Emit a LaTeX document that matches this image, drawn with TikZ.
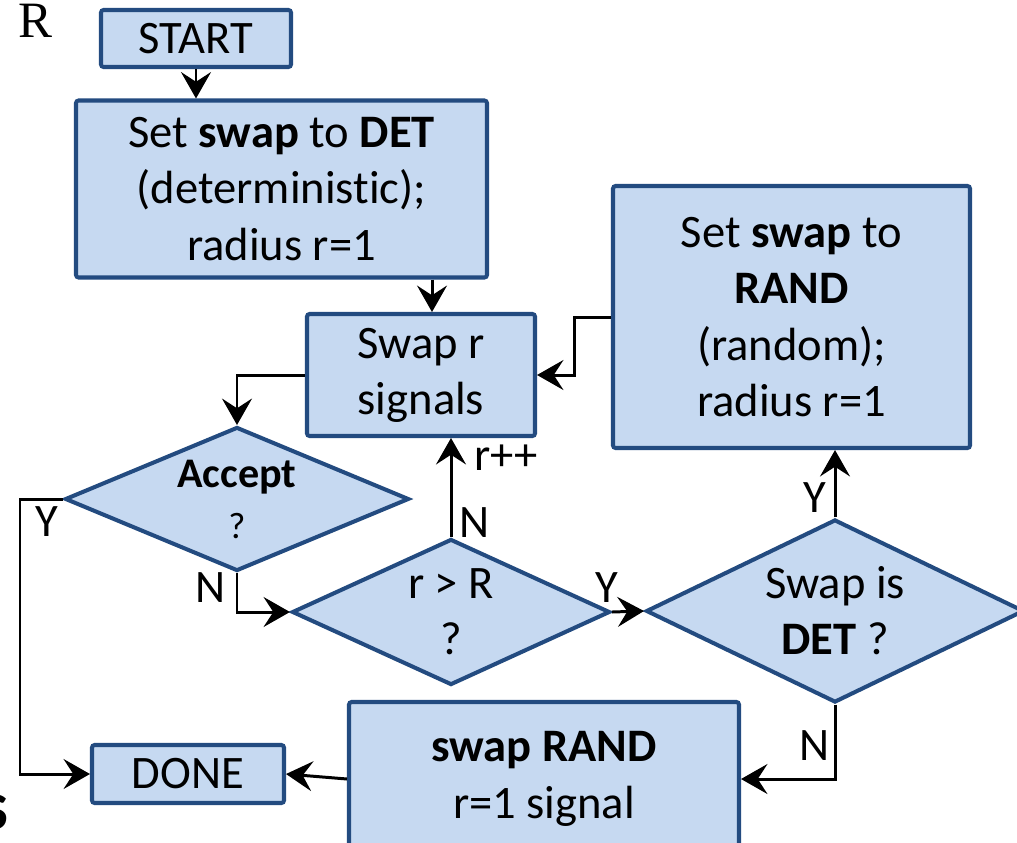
\documentclass[tikz,border=0pt]{standalone}
\usepackage{fontspec}
\setmainfont[Ligatures=NoCommon]{Carlito}
\newfontfamily\serifR{Liberation Serif}
\usetikzlibrary{shapes.geometric,arrows.meta}
\definecolor{boxfill}{RGB}{198,217,241}
\definecolor{boxline}{RGB}{35,75,128}
\newcommand\pw{0.02cm}
\tikzset{
  box/.style={draw=boxline, fill=boxfill, line width=2.3pt, rounded corners=1.5pt,
    align=center, inner sep=0pt, font=\fontsize{26.5}{32}\selectfont},
  dia/.style={shape=diamond, draw=boxline, fill=boxfill, line width=2.3pt,
    align=center, inner sep=0pt, font=\fontsize{26.5}{32}\selectfont},
  conn/.style={line width=1.7pt, black, -{Stealth[length=15pt,width=17pt,inset=5.5pt]}},
  lbl/.style={inner sep=0pt, font=\fontsize{26.5}{32}\selectfont},
}
\begin{document}
\begin{tikzpicture}[x=0.02cm, y=-0.02cm]
\clip (0,0) rectangle (1017,842);
\fill[white] (0,0) rectangle (1017,842);

% stray texts
\node[inner sep=0pt, font=\serifR\fontsize{29}{32}\selectfont] (rtext) at (35,21) {R};
\node[inner sep=0pt, anchor=east, font=\bfseries\fontsize{40}{44}\selectfont] (stext) at (9,812) {s};

% boxes
\node[box, minimum width=190*\pw, minimum height=57*\pw] (start) at (196,38.5) {START};
\node[box, minimum width=411*\pw, minimum height=177*\pw] (det) at (281.5,189) {Set \textbf{swap} to \textbf{DET}\\(deterministic);\\radius r=1};
\node[box, minimum width=228*\pw, minimum height=122*\pw] (swr) at (421,375) {Swap r\\signals};
\node[box, minimum width=357*\pw, minimum height=262*\pw] (rand) at (791.5,317) {Set \textbf{swap} to\\\textbf{RAND}\\(random);\\radius r=1};
\node[box, minimum width=390*\pw, minimum height=154*\pw] (srand) at (544,779) {\textbf{swap RAND}\\r=1 signal};
\node[box, minimum width=192*\pw, minimum height=58*\pw] (done) at (188,774) {DONE};

% diamonds
\node[dia, minimum width=344*\pw, minimum height=144*\pw, shape aspect=2.39] (acc) at (237,499)
  {{\fontsize{24}{28}\selectfont\textbf{Accept}}\\[-3pt]{\fontsize{21}{24}\selectfont ?}};
\node[dia, minimum width=318*\pw, minimum height=146*\pw, shape aspect=2.18] (rr) at (451,612) {r > R\\?};
\node[dia, minimum width=378*\pw, minimum height=183*\pw, shape aspect=2.07] (sd) at (835,611) {Swap is\\\textbf{DET} ?};

% helper coordinates
\coordinate (ya) at (20,499);
\coordinate (yb) at (20,774);

% connectors
\draw[conn] (start.south) -- (start.south |- det.north);
\draw[conn] (det.south -| 432,0) -- (432,0 |- swr.north);
\draw[conn] (swr.west) -| (acc.north);
\draw[conn] (rand.west) -- (574,0 |- rand.west) |- (swr.east);
\draw[conn] (acc.west) -- (ya) -- (yb) -- (done.west);
\draw[conn] (acc.south) |- (rr.west);
\draw[conn] (rr.north) -- (rr.north |- swr.south);
\draw[conn] (rr.east) -- (sd.west);
\draw[conn] (sd.north) -- (sd.north |- rand.south);
\draw[conn] (sd.south) |- (srand.east);
\draw[conn] (srand.west) -- (done.east);

% labels
\node[lbl] (l1) at (47,522) {Y};
\node[lbl] (l2) at (211,588) {N};
\node[lbl] (l3) at (475,523) {N};
\node[lbl, anchor=base west] (l4) at (474,470) {r++};
\node[lbl] (l5) at (607,588) {Y};
\node[lbl] (l6) at (815,498) {Y};
\node[lbl] (l7) at (815,746) {N};
\end{tikzpicture}
\end{document}
